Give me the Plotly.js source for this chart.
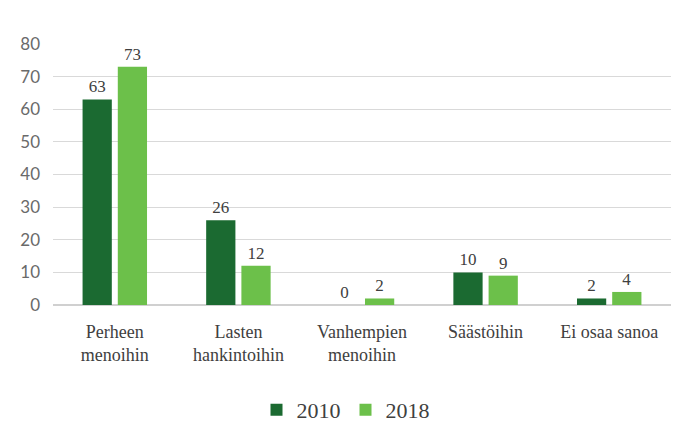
<!DOCTYPE html>
<html><head><meta charset="utf-8">
<script src="https://cdn.plot.ly/plotly-3.0.1.min.js"></script>
<style>body{margin:0;background:#fff}#c{width:691px;height:436px}</style>
</head><body><div id="c"></div>
<script>
const categories = ["Perheen<br>menoihin","Lasten<br>hankintoihin","Vanhempien<br>menoihin","Säästöihin","Ei osaa sanoa"];
const values2010 = [63, 26, 0, 10, 2];
const values2018 = [73, 12, 2, 9, 4];
const seriesNames = ["2010", "2018"];
const yTicks = [0,10,20,30,40,50,60,70,80];

const serif = "Liberation Serif, DejaVu Serif, serif";
const mk = (name, vals, color) => ({
  type: "bar", name: name, x: categories, y: vals,
  marker: {color: color},
  text: vals.map(String), textposition: "outside", cliponaxis: false,
  textfont: {family: serif, size: 17, color: "#404040"},
  hoverinfo: "skip"
});
const data = [mk(seriesNames[0], values2010, "#1b6a31"), mk(seriesNames[1], values2018, "#6cc04a")];
const layout = {
  width: 691, height: 436,
  margin: {l: 53, r: 20, t: 44, b: 131},
  paper_bgcolor: "#fff", plot_bgcolor: "#fff",
  bargap: 0.43, bargroupgap: 0.17,
  showlegend: true,
  legend: {orientation: "h", x: 0.5, xanchor: "center", xref: "container", yref: "container", y: 0.06, yanchor: "middle",
           font: {family: serif, size: 22, color: "#404040"}, itemwidth: 30, traceorder: "normal"},
  xaxis: {tickfont: {family: serif, size: 18, color: "#404040"}, showgrid: false, ticks: "", showline: false,
          ticklabelstandoff: 14, automargin: false},
  yaxis: {range: [0, 80], tickvals: yTicks, ticktext: yTicks.map(String),
          tickfont: {family: "Lato, Open Sans, sans-serif", size: 17, color: "#6a6a6a"},
          gridcolor: "#d9d9d9", gridwidth: 1, zeroline: true, zerolinecolor: "#d0d0d0", zerolinewidth: 1.5,
          ticks: "", ticklen: 0, showline: false, automargin: false, ticklabelstandoff: 12}
};
Plotly.newPlot("c", data, layout, {displayModeBar: false, staticPlot: true});
</script></body></html>
